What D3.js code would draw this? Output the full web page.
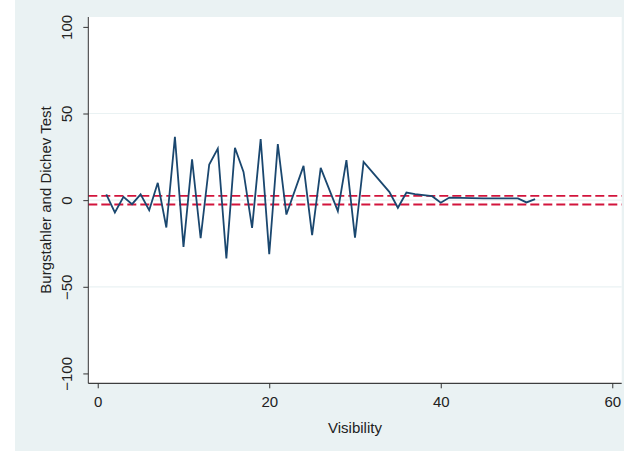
<!DOCTYPE html>
<html>
<head>
<meta charset="utf-8">
<script src="https://d3js.org/d3.v7.min.js"></script>
<style>
  html, body { margin: 0; padding: 0; background: #ffffff; }
  svg { display: block; font-family: "Liberation Sans", Arial, sans-serif; }
</style>
</head>
<body>
<svg id="chart" width="624" height="451"></svg>
<script>
// Data
const visibility = [1,2,3,4,5,6,7,8,9,10,11,12,13,14,15,16,17,18,19,20,21,22,24,25,26,28,29,30,31,34,35,36,37,39,40,41,45,49,50,51];
const bdTest = [3.3,-7.1,1.9,-2.3,3.3,-5.8,10,-15.8,36.5,-27,23.5,-22,20.6,29.8,-33.7,30.2,16.3,-16,35.2,-31.2,32.3,-8.3,19.8,-20.2,18.6,-6.3,23.1,-21.7,22.1,4.8,-4.4,4.4,3.5,2.3,-1.5,1.5,1.0,1.0,-1.3,0.6];
const refLines = [2.5, -2.5];
const yTicks = [-100, -50, 0, 50, 100];
const xTicks = [0, 20, 40, 60];
const yGrid = [-50, 0, 50];
const xTitle = "Visibility";
const yTitle = "Burgstahler and Dichev Test";

const svg = d3.select("#chart");
const W = 624, H = 451;
const plot = { left: 88.3, right: 621.7, top: 17, bottom: 383.3 };

// outer background
svg.append("rect").attr("x", 15).attr("y", 0).attr("width", W - 15).attr("height", H).attr("fill", "#eaf2f3");
// plot region
svg.append("rect").attr("x", plot.left).attr("y", plot.top)
  .attr("width", plot.right - plot.left).attr("height", plot.bottom - plot.top).attr("fill", "#ffffff");

const x = d3.scaleLinear().domain([-1.1, 61.1]).range([plot.left, plot.right]);
const y = d3.scaleLinear().domain([-105.7, 105.7]).range([plot.bottom, plot.top]);

// gridlines
svg.append("g").selectAll("line").data(yGrid).join("line")
  .attr("x1", plot.left).attr("x2", plot.right)
  .attr("y1", d => y(d)).attr("y2", d => y(d))
  .attr("stroke", "#eaf2f3").attr("stroke-width", 1.2);

// reference dashed lines
svg.append("g").selectAll("line").data(refLines).join("line")
  .attr("x1", plot.left).attr("x2", plot.right)
  .attr("y1", d => y(d)).attr("y2", d => y(d))
  .attr("stroke", "#d2143c").attr("stroke-width", 1.8)
  .attr("stroke-dasharray", "9,4");

// data line
const pts = visibility.map((v, i) => [v, bdTest[i]]);
svg.append("path").datum(pts)
  .attr("fill", "none").attr("stroke", "#1a476f").attr("stroke-width", 1.8)
  .attr("stroke-linejoin", "miter")
  .attr("d", d3.line().x(d => x(d[0])).y(d => y(d[1])));

// Y axis
const yAxis = svg.append("g").attr("transform", `translate(${plot.left},0)`)
  .call(d3.axisLeft(y).tickValues(yTicks).tickSize(5).tickPadding(4).tickFormat(d3.format("d")));
yAxis.select(".domain").attr("stroke", "#333").attr("d", `M0,${plot.top}V${plot.bottom}`);
yAxis.selectAll(".tick line").attr("stroke", "#333");
yAxis.selectAll(".tick text")
  .attr("font-size", 15).attr("fill", "#222")
  .attr("transform", "rotate(-90)")
  .attr("x", 0).attr("y", -16)
  .attr("text-anchor", "middle").attr("dy", "0");

// X axis
const xAxis = svg.append("g").attr("transform", `translate(0,${plot.bottom})`)
  .call(d3.axisBottom(x).tickValues(xTicks).tickSize(5).tickPadding(8).tickFormat(d3.format("d")));
xAxis.select(".domain").attr("stroke", "#111").attr("d", `M${plot.left},0H${plot.right}`);
xAxis.selectAll(".tick line").attr("stroke", "#333");
xAxis.selectAll(".tick text").attr("font-size", 15).attr("fill", "#222");

// titles
svg.append("text").attr("x", 355).attr("y", 433)
  .attr("text-anchor", "middle").attr("font-size", 15).attr("fill", "#222").text(xTitle);
svg.append("text").attr("transform", "translate(51,200) rotate(-90)")
  .attr("text-anchor", "middle").attr("font-size", 15).attr("fill", "#222").text(yTitle);
</script>
</body>
</html>
